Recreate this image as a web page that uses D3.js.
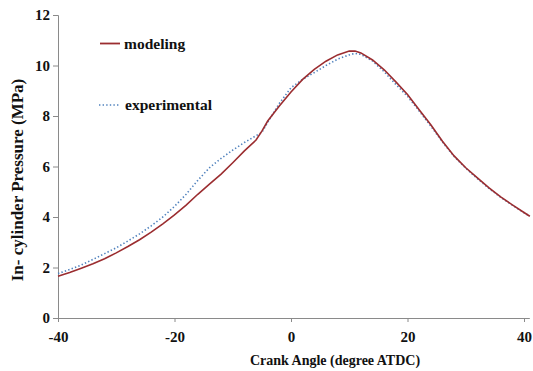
<!DOCTYPE html>
<html>
<head>
<meta charset="utf-8">
<script src="https://cdn.jsdelivr.net/npm/d3@7"></script>
<style>
  html, body { margin: 0; padding: 0; background: #fff; }
  svg { display: block; }
  text { font-family: "Liberation Serif", "Times New Roman", serif; font-weight: bold; fill: #111; }
</style>
</head>
<body>
<svg id="chart" width="533" height="371"></svg>
<script>
// Crank angle (degree ATDC) and in-cylinder pressure (MPa)
const modelAngle = [-40,-38,-36,-34,-32,-30,-28,-26,-24,-22,-20,-18,-16,-14,-12,-10,-8,-6,-5,-4,-2,0,2,4,6,8,10,11,12,14,16,18,20,22,24,26,28,30,32,34,36,38,40,41];
const modelPressure = [1.65,1.80,1.97,2.15,2.35,2.58,2.83,3.10,3.40,3.73,4.08,4.47,4.90,5.30,5.70,6.15,6.62,7.05,7.40,7.80,8.40,8.95,9.45,9.85,10.17,10.42,10.57,10.57,10.50,10.22,9.83,9.35,8.85,8.25,7.65,7.00,6.42,5.95,5.55,5.15,4.80,4.48,4.18,4.03];

const expAngle = [-40,-38,-36,-34,-32,-30,-28,-26,-24,-22,-20,-18,-16,-14,-12,-10,-8,-6,-5,-4,-2,0,2,4,6,8,10,11,12,14,16,18,20,22,24,26,28,30,32,34,36,38,40,41];
const expPressure = [1.76,1.92,2.10,2.32,2.55,2.78,3.05,3.33,3.65,4.00,4.42,4.90,5.45,5.95,6.32,6.65,6.95,7.22,7.35,7.75,8.50,9.12,9.45,9.72,10.00,10.25,10.42,10.48,10.44,10.18,9.75,9.25,8.78,8.20,7.60,6.97,6.40,5.93,5.52,5.13,4.78,4.47,4.17,4.03];

const xTicks = [-40,-20,0,20,40];
const yTicks = [0,2,4,6,8,10,12];

const seriesNames = ["modeling", "experimental"];

const svg = d3.select("#chart");

const x = d3.scaleLinear().domain([-40, 40]).range([58, 524]);
const y = d3.scaleLinear().domain([0, 12]).range([318, 15]);

const axisColor = "#8a8a8a";
const plain = d => String(d);

// y axis
const yAxis = svg.append("g")
  .attr("transform", `translate(${x(-40)},0)`)
  .call(d3.axisLeft(y).tickValues(yTicks).tickSize(5).tickPadding(3).tickFormat(plain));
yAxis.select(".domain").attr("stroke", axisColor);
yAxis.selectAll(".tick line").attr("stroke", axisColor);
yAxis.selectAll(".tick text").style("font-size", "15px").attr("fill", "#111");

// x axis
const xAxis = svg.append("g")
  .attr("transform", `translate(0,${y(0)})`)
  .call(d3.axisBottom(x).tickValues(xTicks).tickSize(4).tickPadding(9).tickFormat(plain));
xAxis.select(".domain").attr("stroke", axisColor).attr("d", `M${x(-40)},0.5H${x(41)}`);
xAxis.selectAll(".tick line").attr("stroke", axisColor);
xAxis.selectAll(".tick text").style("font-size", "15px").attr("fill", "#111");

// axis titles
svg.append("text")
  .attr("x", 335).attr("y", 365)
  .attr("text-anchor", "middle")
  .style("font-size", "14px")
  .text("Crank Angle (degree ATDC)");

svg.append("text")
  .attr("transform", `translate(23,180) rotate(-90)`)
  .attr("text-anchor", "middle")
  .style("font-size", "17px")
  .text("In- cylinder Pressure (MPa)");

// curves
const line = d3.line().x(d => x(d[0])).y(d => y(d[1]));
const modelData = d3.zip(modelAngle, modelPressure);
const expData = d3.zip(expAngle, expPressure);

svg.append("path")
  .datum(expData)
  .attr("fill", "none")
  .attr("stroke", "#4f81bd")
  .attr("stroke-width", 1.6)
  .attr("stroke-dasharray", "1.4,2.2")
  .attr("d", line);

svg.append("path")
  .datum(modelData)
  .attr("fill", "none")
  .attr("stroke", "#9b2d30")
  .attr("stroke-width", 1.6)
  .attr("d", line);

// legend
const legend = svg.append("g");
legend.append("line")
  .attr("x1", 100).attr("x2", 120).attr("y1", 43.5).attr("y2", 43.5)
  .attr("stroke", "#9b2d30").attr("stroke-width", 1.8);
legend.append("text")
  .attr("x", 124).attr("y", 49)
  .style("font-size", "15.5px")
  .text(seriesNames[0]);

legend.append("line")
  .attr("x1", 99).attr("x2", 120).attr("y1", 105).attr("y2", 105)
  .attr("stroke", "#4f81bd").attr("stroke-width", 1.6).attr("stroke-dasharray", "1.4,2.2");
legend.append("text")
  .attr("x", 125).attr("y", 110)
  .style("font-size", "15.5px")
  .text(seriesNames[1]);
</script>
</body>
</html>
